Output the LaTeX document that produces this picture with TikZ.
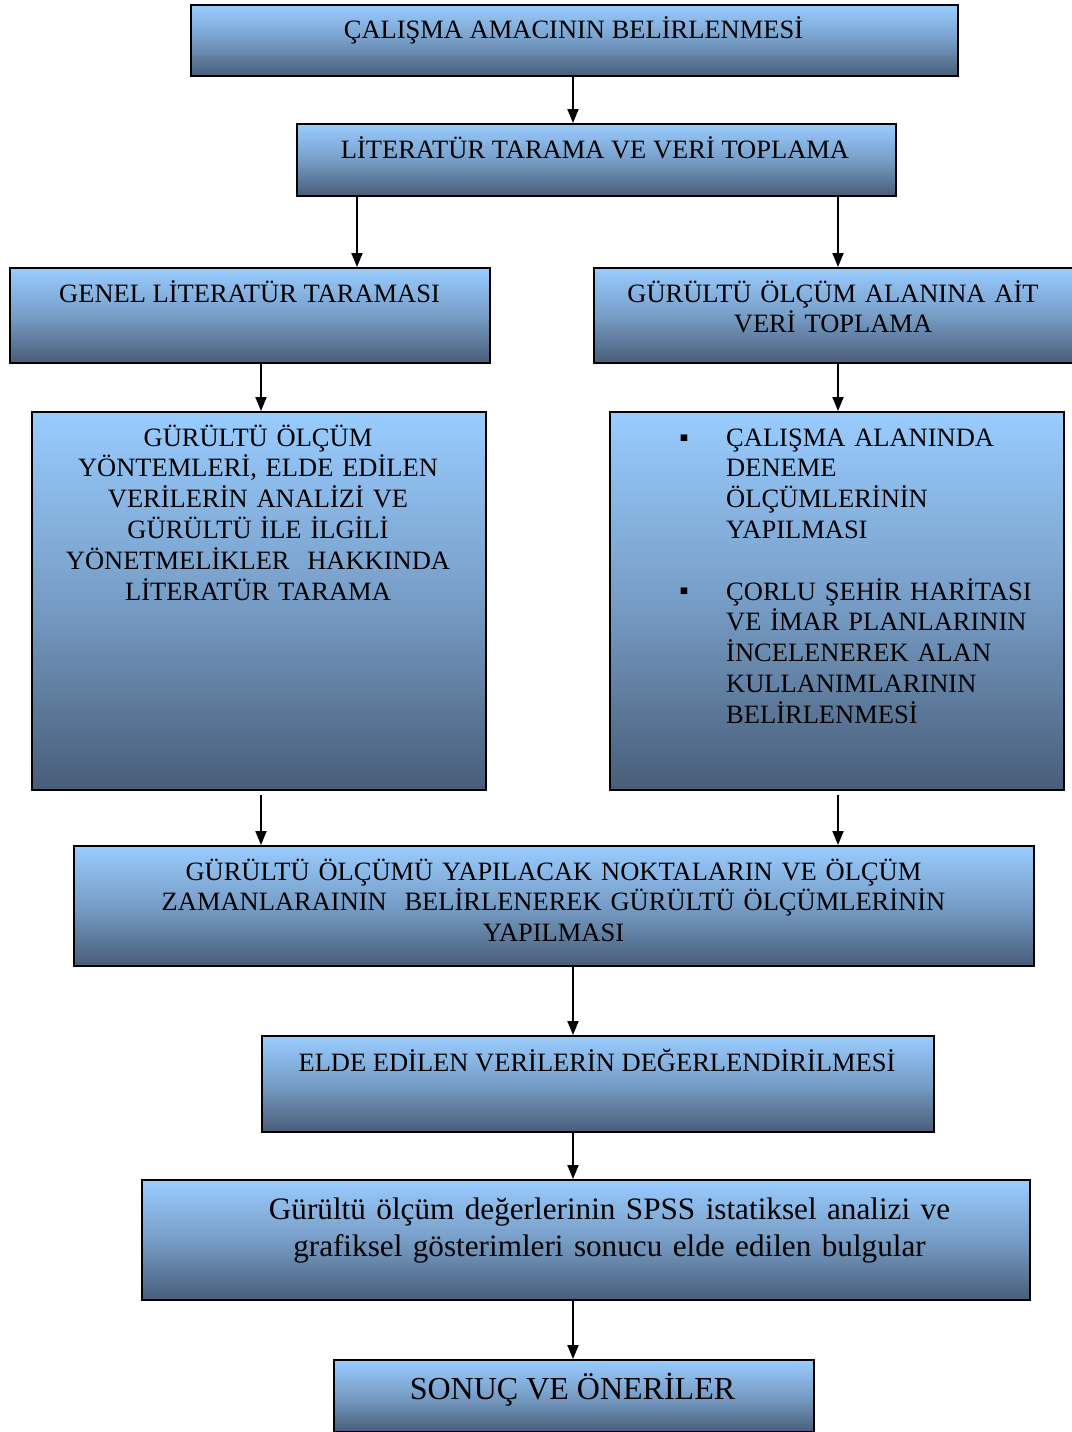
\documentclass[tikz,border=0pt]{standalone}
\usepackage{fontspec}
\setmainfont{Liberation Serif}
\usetikzlibrary{arrows.meta}
\definecolor{topb}{RGB}{153,204,255}
\definecolor{midb}{RGB}{119,157,198}
\definecolor{botb}{RGB}{72,93,120}
\begin{document}
\begin{tikzpicture}[x=1pt,y=-1pt,
  box/.style={draw=black, line width=2.2pt, top color=topb, bottom color=botb, middle color=midb, anchor=north west, inner sep=0pt},
  txt/.style={font=\fontsize{26.5}{30.8}\selectfont, inner sep=0pt, anchor=base},
  arr/.style={line width=2pt, -{Triangle[length=14pt,width=11pt]}}]
\useasboundingbox (0,0) rectangle (1071,1432);
% boxes
\node[box, minimum width=767pt, minimum height=71pt] (b1) at (190,4) {};
\node[box, minimum width=599pt, minimum height=72pt] (b2) at (296,123) {};
\node[box, minimum width=480pt, minimum height=95pt] (b3) at (9,267) {};
\node[box, minimum width=480pt, minimum height=95pt] (b4) at (593,267) {};
\node[box, minimum width=454pt, minimum height=378pt] (b5) at (31,411) {};
\node[box, minimum width=454pt, minimum height=378pt] (b6) at (609,411) {};
\node[box, minimum width=960pt, minimum height=120pt] (b7) at (73,845) {};
\node[box, minimum width=672pt, minimum height=96pt] (b8) at (261,1035) {};
\node[box, minimum width=888pt, minimum height=120pt] (b9) at (141,1179) {};
\node[box, minimum width=480pt, minimum height=72pt] (b10) at (333,1359) {};
% texts
\node[txt] (t1) at (573.5,38) {ÇALIŞMA AMACININ BELİRLENMESİ};
\node[txt] (t2) at (595,158) {LİTERATÜR TARAMA VE VERİ TOPLAMA};
\node[txt] (t3) at (249.5,302) {GENEL LİTERATÜR TARAMASI};
\node[txt, text width=470pt, align=center] (t4) at (833,302) {GÜRÜLTÜ ÖLÇÜM ALANINA AİT\\VERİ TOPLAMA};
\node[txt, text width=440pt, align=center] (t5) at (258,446) {GÜRÜLTÜ ÖLÇÜM\\YÖNTEMLERİ, ELDE EDİLEN\\VERİLERİN ANALİZİ VE\\GÜRÜLTÜ İLE İLGİLİ\\YÖNETMELİKLER\ \ HAKKINDA\\LİTERATÜR TARAMA};
\node[txt, anchor=base west, text width=335pt, align=left] (t6) at (726,446) {ÇALIŞMA ALANINDA\\DENEME\\ÖLÇÜMLERİNİN\\YAPILMASI\\[30.8pt]ÇORLU ŞEHİR HARİTASI\\VE İMAR PLANLARININ\\İNCELENEREK ALAN\\KULLANIMLARININ\\BELİRLENMESİ};
\node[txt] (u1) at (684,446) {▪};
\node[txt] (u2) at (684,599) {▪};
\node[txt, text width=940pt, align=center] (t7) at (553.5,880) {GÜRÜLTÜ ÖLÇÜMÜ YAPILACAK NOKTALARIN VE ÖLÇÜM\\ZAMANLARAININ\ \ BELİRLENEREK GÜRÜLTÜ ÖLÇÜMLERİNİN\\YAPILMASI};
\node[txt] (t8) at (597,1071) {ELDE EDİLEN VERİLERİN DEĞERLENDİRİLMESİ};
\node[txt, font=\fontsize{31.2}{37}\selectfont, text width=870pt, align=center] (t9) at (609.5,1219) {Gürültü ölçüm değerlerinin SPSS istatiksel analizi ve\\grafiksel gösterimleri sonucu elde edilen bulgular};
\node[txt, font=\fontsize{32}{37}\selectfont] (t10) at (572.5,1399) {SONUÇ VE ÖNERİLER};
% connectors
\coordinate (xc) at (573,0);
\coordinate (xl) at (357,0);
\coordinate (xr) at (838,0);
\coordinate (xq) at (261,0);
\draw[arr] (b1.south -| xc) -- (b2.north -| xc);
\draw[arr] (b2.south -| xl) -- (b3.north -| xl);
\draw[arr] (b2.south -| xr) -- (b4.north -| xr);
\draw[arr] (b3.south -| xq) -- (b5.north -| xq);
\draw[arr] (b4.south -| xr) -- (b6.north -| xr);
\draw[arr, shorten <=4pt] (b5.south -| xq) -- (b7.north -| xq);
\draw[arr, shorten <=4pt] (b6.south -| xr) -- (b7.north -| xr);
\draw[arr] (b7.south -| xc) -- (b8.north -| xc);
\draw[arr] (b8.south -| xc) -- (b9.north -| xc);
\draw[arr] (b9.south -| xc) -- (b10.north -| xc);
\end{tikzpicture}
\end{document}
